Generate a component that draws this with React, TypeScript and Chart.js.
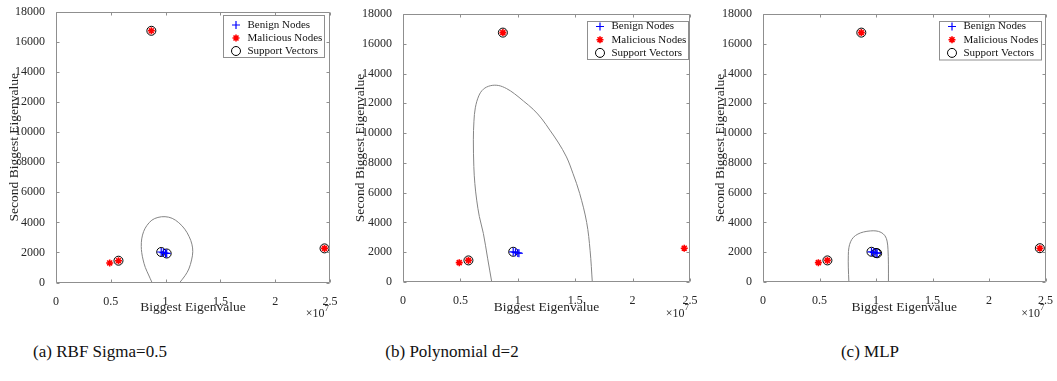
import React, { useEffect, useRef } from "react";
import { Chart, registerables } from "chart.js";

Chart.register(...registerables);

const FONT = '"Liberation Serif", "Times New Roman", serif';
const TEXT = "#262626";
const AXIS = "#8f8f8f";
const CANVAS_H = 325;

// Axis ticks (x axis in units of 10^7)
const X_TICKS = [0, 0.5, 1, 1.5, 2, 2.5];
const Y_TICKS = [0, 2000, 4000, 6000, 8000, 10000, 12000, 14000, 16000, 18000];

// Nodes: biggest eigenvalue (x10^7) vs. second biggest eigenvalue
const benignX = [0.96, 0.98, 1.0, 1.01];
const benignY = [2030, 1990, 1950, 1930];
const maliciousX = [0.49, 0.57, 0.87, 2.45];
const maliciousY = [1300, 1450, 16750, 2270];

// Support vectors of each classifier
const rbfSvX = [0.57, 0.87, 2.45, 0.96, 1.01];
const rbfSvY = [1450, 16750, 2270, 2030, 1930];
const polySvX = [0.57, 0.87, 0.96];
const polySvY = [1450, 16750, 2030];
const mlpSvX = [0.57, 0.87, 2.45, 0.96, 1.0, 1.01];
const mlpSvY = [1450, 16750, 2270, 2030, 1950, 1930];

// Decision boundaries
const rbfBoundaryX = [0.876, 0.845, 0.815, 0.795, 0.782, 0.778, 0.782, 0.8, 0.83, 0.875, 0.93, 0.995, 1.06, 1.12, 1.175, 1.215, 1.24, 1.248, 1.237, 1.212, 1.177, 1.129];
const rbfBoundaryY = [0, 500, 1000, 1500, 2000, 2400, 2900, 3400, 3800, 4150, 4330, 4380, 4270, 3980, 3550, 3050, 2550, 2050, 1500, 900, 450, 0];
const polyBoundaryX = [0.773, 0.737, 0.7, 0.665, 0.642, 0.626, 0.617, 0.613, 0.618, 0.63, 0.66, 0.7, 0.76, 0.83, 0.9, 0.97, 1.05, 1.134, 1.21, 1.279, 1.35, 1.424, 1.48, 1.539, 1.6, 1.63, 1.649];
const polyBoundaryY = [0, 1600, 3260, 4400, 5500, 6600, 7750, 9550, 10800, 11700, 12500, 12950, 13180, 13200, 13000, 12650, 12150, 11600, 10950, 10200, 9400, 8400, 7300, 5950, 4000, 2100, 0];
const mlpBoundaryX = [0.76, 0.755, 0.755, 0.76, 0.775, 0.8, 0.84, 0.89, 0.95, 1.0, 1.045, 1.08, 1.098, 1.106, 1.11, 1.11];
const mlpBoundaryY = [0, 1000, 1800, 2300, 2700, 3000, 3220, 3360, 3430, 3430, 3330, 3100, 2750, 2200, 1200, 0];

const CAPTIONS = ["(a) RBF Sigma=0.5", "(b) Polynomial d=2", "(c) MLP"];

const pts = (xs: number[], ys: number[]) => xs.map((x, i) => ({ x, y: ys[i] }));

type Layout = {
  left: number;
  width: number;
  areaLeft: number;
  areaTop: number;
  areaRight: number;
  areaBottom: number;
  yTitlePad: number;
  legend: { right: number; top: number; width: number; height: number; firstRow: number; rowGap: number };
  captionX: number;
};

const PANELS: { svX: number[]; svY: number[]; bX: number[]; bY: number[]; caption: string; layout: Layout }[] = [
  {
    svX: rbfSvX, svY: rbfSvY, bX: rbfBoundaryX, bY: rbfBoundaryY, caption: CAPTIONS[0],
    layout: { left: 0, width: 345, areaLeft: 56, areaTop: 12, areaRight: 330, areaBottom: 282.5, yTitlePad: 5.9,
      legend: { right: 6, top: 3, width: 101, height: 42, firstRow: 10, rowGap: 13 }, captionX: 100 },
  },
  {
    svX: polySvX, svY: polySvY, bX: polyBoundaryX, bY: polyBoundaryY, caption: CAPTIONS[1],
    layout: { left: 350, width: 352, areaLeft: 53, areaTop: 14, areaRight: 340, areaBottom: 282, yTitlePad: 1.9,
      legend: { right: 2, top: 6.5, width: 101, height: 38, firstRow: 5.5, rowGap: 13.2 }, captionX: 452 },
  },
  {
    svX: mlpSvX, svY: mlpSvY, bX: mlpBoundaryX, bY: mlpBoundaryY, caption: CAPTIONS[2],
    layout: { left: 705, width: 352, areaLeft: 58, areaTop: 14, areaRight: 345, areaBottom: 282, yTitlePad: 6.9,
      legend: { right: 5, top: 6.5, width: 102, height: 38.5, firstRow: 5.5, rowGap: 13.2 }, captionX: 870 },
  },
];

function drawMarker(ctx: CanvasRenderingContext2D, style: string, x: number, y: number, r: number, color: string, lw: number) {
  ctx.save();
  ctx.strokeStyle = color;
  ctx.lineWidth = lw;
  ctx.beginPath();
  if (style === "cross" || style === "star") {
    ctx.moveTo(x - r, y);
    ctx.lineTo(x + r, y);
    ctx.moveTo(x, y - r);
    ctx.lineTo(x, y + r);
  }
  if (style === "star") {
    const d = r * Math.SQRT1_2;
    ctx.moveTo(x - d, y - d);
    ctx.lineTo(x + d, y + d);
    ctx.moveTo(x - d, y + d);
    ctx.lineTo(x + d, y - d);
  }
  if (style === "circle") ctx.arc(x, y, r, 0, Math.PI * 2);
  ctx.stroke();
  ctx.restore();
}

// Full box around the plot with inward tick marks on all four sides
const axesBox = {
  id: "axesBox",
  afterDatasetsDraw(chart: any) {
    const { ctx, chartArea: a, scales } = chart;
    const L = Math.round(a.left) + 0.5;
    const R = Math.round(a.right) - 0.5;
    const T = Math.round(a.top) + 0.5;
    const B = Math.round(a.bottom) - 0.5;
    ctx.save();
    ctx.strokeStyle = AXIS;
    ctx.lineWidth = 1;
    ctx.beginPath();
    ctx.rect(L, T, R - L, B - T);
    const tl = 3;
    for (const v of X_TICKS) {
      const px = Math.round(scales.x.getPixelForValue(v)) + 0.5;
      ctx.moveTo(px, B);
      ctx.lineTo(px, B - tl);
      ctx.moveTo(px, T);
      ctx.lineTo(px, T + tl);
    }
    for (const v of Y_TICKS) {
      const py = Math.round(scales.y.getPixelForValue(v)) + 0.5;
      ctx.moveTo(L, py);
      ctx.lineTo(L + tl, py);
      ctx.moveTo(R, py);
      ctx.lineTo(R - tl, py);
    }
    ctx.stroke();
    ctx.restore();
  },
};

// Boxed legend inside the top-right corner of the plot
const boxLegend = {
  id: "boxLegend",
  afterDraw(chart: any, _args: any, opts: any) {
    const { ctx, chartArea } = chart;
    const x0 = Math.round(chartArea.right - opts.right - opts.width);
    const y0 = Math.round(chartArea.top + opts.top);
    ctx.save();
    ctx.fillStyle = "#ffffff";
    ctx.fillRect(x0, y0, opts.width, opts.height);
    ctx.strokeStyle = AXIS;
    ctx.lineWidth = 1;
    ctx.strokeRect(x0 + 0.5, y0 + 0.5, opts.width, opts.height);
    const items = chart.data.datasets.filter((d: any) => d.label);
    items.forEach((ds: any, i: number) => {
      const cy = y0 + opts.firstRow + i * opts.rowGap;
      drawMarker(ctx, ds.pointStyle, x0 + 13, cy, ds.pointRadius, ds.borderColor, ds.pointBorderWidth);
      ctx.fillStyle = "#111";
      ctx.font = `11px ${FONT}`;
      ctx.textAlign = "left";
      ctx.textBaseline = "middle";
      ctx.fillText(ds.label, x0 + 24.5, cy);
    });
    ctx.restore();
  },
};

// Axis multiplier below the right end of the x axis
const exponentLabel = {
  id: "exponentLabel",
  afterDraw(chart: any) {
    const { ctx, chartArea } = chart;
    const right = chartArea.right - 1;
    ctx.save();
    ctx.fillStyle = TEXT;
    ctx.textBaseline = "alphabetic";
    ctx.font = `9px ${FONT}`;
    const supW = ctx.measureText("7").width;
    ctx.textAlign = "left";
    ctx.fillText("7", right - supW, chartArea.bottom + 28);
    ctx.font = `12px ${FONT}`;
    ctx.textAlign = "right";
    ctx.fillText("\u00d710", right - supW, chartArea.bottom + 34.5);
    ctx.restore();
  },
};

function Panel({ spec }: { spec: (typeof PANELS)[number] }) {
  const ref = useRef<HTMLCanvasElement>(null);
  useEffect(() => {
    const L = spec.layout;
    const chart = new Chart(ref.current as HTMLCanvasElement, {
      type: "scatter",
      data: {
        datasets: [
          {
            label: "Benign Nodes",
            data: pts(benignX, benignY),
            pointStyle: "cross",
            pointRadius: 4,
            pointBorderWidth: 1.2,
            borderColor: "#0000ff",
            backgroundColor: "#0000ff",
          },
          {
            label: "Malicious Nodes",
            data: pts(maliciousX, maliciousY),
            pointStyle: "star",
            pointRadius: 3.5,
            pointBorderWidth: 1.6,
            borderColor: "#ff0000",
            backgroundColor: "#ff0000",
          },
          {
            label: "Support Vectors",
            data: pts(spec.svX, spec.svY),
            pointStyle: "circle",
            pointRadius: 4.5,
            pointBorderWidth: 1,
            borderColor: "#000000",
            backgroundColor: "rgba(0,0,0,0)",
          },
          {
            label: "",
            data: pts(spec.bX, spec.bY),
            showLine: true,
            pointRadius: 0,
            borderColor: "#858585",
            borderWidth: 1,
            tension: 0.35,
            fill: false,
          },
        ],
      } as any,
      options: {
        animation: false,
        responsive: false,
        devicePixelRatio: 1,
        events: [],
        layout: {
          autoPadding: false,
          padding: { left: 0, top: L.areaTop, right: L.width - L.areaRight, bottom: 0 },
        },
        scales: {
          x: {
            type: "linear",
            min: 0,
            max: 2.5,
            grid: { display: false },
            border: { display: false },
            afterBuildTicks: (s: any) => {
              s.ticks = X_TICKS.map((v) => ({ value: v }));
            },
            afterFit: (s: any) => {
              s.height = CANVAS_H - L.areaBottom;
            },
            ticks: {
              autoSkip: false,
              maxRotation: 0,
              padding: 4,
              color: TEXT,
              font: { family: FONT, size: 12 },
              callback: (v: any) => String(v),
            },
            title: {
              display: true,
              text: "Biggest Eigenvalue",
              color: TEXT,
              font: { family: FONT, size: 13.5 },
              padding: { top: 0, bottom: 9.4 },
            },
          },
          y: {
            type: "linear",
            min: 0,
            max: 18000,
            grid: { display: false },
            border: { display: false },
            afterBuildTicks: (s: any) => {
              s.ticks = Y_TICKS.map((v) => ({ value: v }));
            },
            afterFit: (s: any) => {
              s.width = L.areaLeft;
            },
            ticks: {
              autoSkip: false,
              padding: 3,
              color: TEXT,
              font: { family: FONT, size: 12 },
              callback: (v: any) => String(v),
            },
            title: {
              display: true,
              text: "Second Biggest Eigenvalue",
              color: TEXT,
              font: { family: FONT, size: 13.5 },
              padding: { top: L.yTitlePad, bottom: 0 },
            },
          },
        },
        plugins: {
          legend: { display: false },
          tooltip: { enabled: false },
          boxLegend: L.legend,
        } as any,
      },
      plugins: [axesBox, boxLegend, exponentLabel],
    } as any);
    return () => chart.destroy();
  }, [spec]);

  return (
    <canvas
      ref={ref}
      width={spec.layout.width}
      height={CANVAS_H}
      style={{ position: "absolute", left: spec.layout.left, top: 0, width: spec.layout.width, height: CANVAS_H }}
    />
  );
}

export default function App() {
  return (
    <div
      style={{
        position: "absolute",
        left: 0,
        top: 0,
        width: 1057,
        height: 381,
        background: "#ffffff",
        overflow: "hidden",
        fontFamily: FONT,
      }}
    >
      {PANELS.map((p, i) => (
        <Panel key={i} spec={p} />
      ))}
      {PANELS.map((p, i) => (
        <div
          key={"c" + i}
          style={{
            position: "absolute",
            left: p.layout.captionX - 150,
            top: 342,
            width: 300,
            textAlign: "center",
            fontSize: 17,
            lineHeight: "20px",
            color: "#111",
            whiteSpace: "nowrap",
          }}
        >
          {p.caption}
        </div>
      ))}
    </div>
  );
}
